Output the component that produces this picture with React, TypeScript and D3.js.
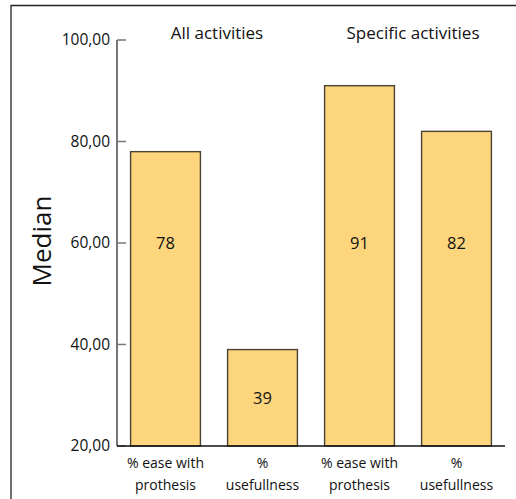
import React from "react";
import * as d3 from "d3";

const categories = ["A1", "A2", "S1", "S2"];
const categoryLines = [
  ["% ease with", "prothesis"],
  ["%", "usefullness"],
  ["% ease with", "prothesis"],
  ["%", "usefullness"],
];
const values = [78, 39, 91, 82];
const yTicks = [20, 40, 60, 80, 100];
const groups = [
  { label: "All activities", members: ["A1", "A2"] },
  { label: "Specific activities", members: ["S1", "S2"] },
];

const W = 516;
const H = 499;
const FONT = "'Open Sans', 'Noto Sans', sans-serif";

export default function App() {
  const left = 117;
  const right = 505;
  const top = 40;
  const bottom = 446;

  const x = d3.scaleBand<string>().domain(categories).range([left, right]).paddingInner(0.28).paddingOuter(0.14);
  const y = d3.scaleLinear().domain([20, 100]).range([bottom, top]);
  const fmt = (v: number) => v.toFixed(2).replace(".", ",");

  const labelValue = (v: number) => (v > 60 ? 60 : (20 + v) / 2);

  return (
    <svg width={W} height={H} style={{ position: "absolute", left: 0, top: 0, background: "#fff" }}>
      {/* frame */}
      <path d={`M11,${H + 2} V5.5 H${W + 2}`} fill="none" stroke="#222" strokeWidth={1.3} />
      {/* bars */}
      {categories.map((c, i) => (
        <rect
          key={c}
          x={x(c)}
          y={y(values[i])}
          width={x.bandwidth()}
          height={bottom - y(values[i])}
          fill="#FCD57C"
          stroke="#4a4232"
          strokeWidth={1.4}
        />
      ))}
      {/* value labels */}
      {categories.map((c, i) => (
        <text
          key={c}
          x={(x(c) as number) + x.bandwidth() / 2}
          y={y(labelValue(values[i]))}
          dy="0.35em"
          textAnchor="middle"
          fontFamily={FONT}
          fontSize={16.5}
          fill="#111"
        >
          {values[i]}
        </text>
      ))}
      {/* y axis */}
      <line x1={left} x2={left} y1={top} y2={bottom} stroke="#777" strokeWidth={2} />
      {yTicks.map((t) => (
        <g key={t}>
          <line x1={left} x2={left + 9} y1={y(t)} y2={y(t)} stroke="#777" strokeWidth={1.5} />
          <text
            x={110}
            y={y(t)}
            dy="0.35em"
            textAnchor="end"
            fontFamily={FONT}
            fontSize={15.5}
            fill="#111"
          >
            {fmt(t)}
          </text>
        </g>
      ))}
      {/* x axis */}
      <line x1={left} x2={right} y1={bottom} y2={bottom} stroke="#111" strokeWidth={1.5} />
      {categories.map((c, i) => (
        <text
          key={c}
          x={(x(c) as number) + x.bandwidth() / 2}
          y={468}
          textAnchor="middle"
          fontFamily={FONT}
          fontSize={14}
          fill="#111"
        >
          {categoryLines[i].map((l, j) => (
            <tspan key={j} x={(x(c) as number) + x.bandwidth() / 2} dy={j === 0 ? 0 : 22}>
              {l}
            </tspan>
          ))}
        </text>
      ))}
      {/* group labels */}
      {groups.map((g, i) => {
        const cx = d3.mean(g.members, (m) => (x(m) as number) + x.bandwidth() / 2) as number;
        return (
          <text
            key={g.label}
            x={cx + (i === 0 ? 3 : 5)}
            y={39}
            textAnchor="middle"
            fontFamily={FONT}
            fontSize={17}
            fill="#111"
          >
            {g.label}
          </text>
        );
      })}
      {/* y label */}
      <text
        transform={`translate(51,${y(60) - 2}) rotate(-90)`}
        textAnchor="middle"
        fontFamily={FONT}
        fontSize={26}
        fill="#111"
      >
        Median
      </text>
    </svg>
  );
}
